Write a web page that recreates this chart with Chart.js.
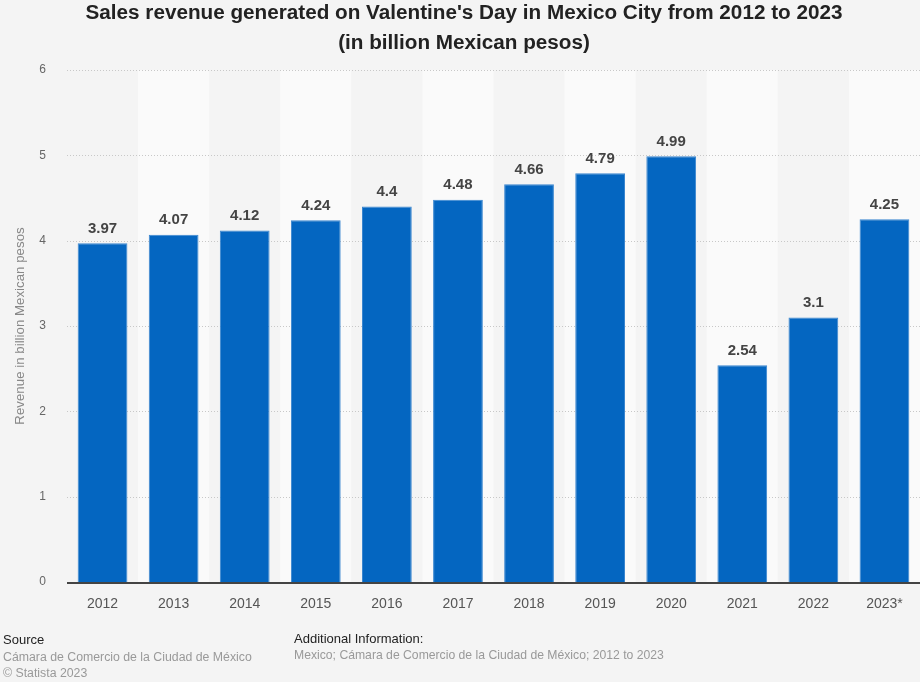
<!DOCTYPE html>
<html>
<head>
<meta charset="utf-8">
<script src="https://cdn.jsdelivr.net/npm/chart.js@4/dist/chart.umd.min.js"></script>
<style>
  html, body { margin:0; padding:0; background:#f4f4f4; }
  #wrap { position:relative; width:920px; height:682px; overflow:hidden; font-family:"Liberation Sans", Arial, sans-serif; }
  #c { position:absolute; left:0; top:0; }
  .title { position:absolute; left:4px; width:920px; text-align:center; font-weight:bold; font-size:20.7px; color:#222; }
  .ft { position:absolute; font-size:12.3px; white-space:nowrap; }
</style>
</head>
<body>
<div id="wrap">
  <canvas id="c" width="920" height="682"></canvas>
  <div class="title" style="top:0px;">Sales revenue generated on Valentine's Day in Mexico City from 2012 to 2023</div>
  <div class="title" style="top:30px;">(in billion Mexican pesos)</div>
  <div class="ft" style="left:3px; top:632px; color:#222; font-size:13px;">Source</div>
  <div class="ft" style="left:3px; top:650px; color:#999;">Cámara de Comercio de la Ciudad de México</div>
  <div class="ft" style="left:3px; top:666px; color:#999;">© Statista 2023</div>
  <div class="ft" style="left:294px; top:631px; color:#222; font-size:13px;">Additional Information:</div>
  <div class="ft" style="left:294px; top:648px; color:#999; font-size:12.2px;">Mexico; Cámara de Comercio de la Ciudad de México; 2012 to 2023</div>
</div>
<script>
const categories = ["2012","2013","2014","2015","2016","2017","2018","2019","2020","2021","2022","2023*"];
const revenue = [3.97, 4.07, 4.12, 4.24, 4.4, 4.48, 4.66, 4.79, 4.99, 2.54, 3.1, 4.25];
const yTicks = [0, 1, 2, 3, 4, 5, 6];

const bandPlugin = {
  id: 'bands',
  beforeDatasetsDraw(chart) {
    const {ctx, chartArea, scales} = chart;
    const x = scales.x;
    ctx.save();
    ctx.fillStyle = '#fafafa';
    for (let i = 1; i < categories.length; i += 2) {
      const c = x.getPixelForValue(i);
      const half = (x.getPixelForValue(1) - x.getPixelForValue(0)) / 2;
      ctx.fillRect(c - half, chartArea.top, half * 2, chartArea.bottom - chartArea.top);
    }
    ctx.strokeStyle = '#c8c8c8';
    ctx.lineWidth = 1;
    ctx.setLineDash([1, 2]);
    const y = scales.y;
    for (const t of yTicks) {
      if (t === 0) continue;
      const py = Math.round(y.getPixelForValue(t)) + 0.5;
      ctx.beginPath();
      ctx.moveTo(chartArea.left, py);
      ctx.lineTo(chartArea.right, py);
      ctx.stroke();
    }
    ctx.restore();
  },
  afterDatasetsDraw(chart) {
    const {ctx, chartArea, scales} = chart;
    ctx.save();
    ctx.strokeStyle = '#444';
    ctx.lineWidth = 2;
    const py = scales.y.getPixelForValue(0) + 1;
    ctx.beginPath();
    ctx.moveTo(chartArea.left, py);
    ctx.lineTo(chartArea.right, py);
    ctx.stroke();
    const meta = chart.getDatasetMeta(0);
    ctx.fillStyle = '#444';
    ctx.font = 'bold 15px "Liberation Sans", Arial, sans-serif';
    ctx.textAlign = 'center';
    ctx.textBaseline = 'bottom';
    meta.data.forEach((bar, i) => {
      ctx.fillText(String(revenue[i]), bar.x, bar.y - 7);
    });
    ctx.restore();
  }
};

new Chart(document.getElementById('c'), {
  type: 'bar',
  data: {
    labels: categories,
    datasets: [{
      data: revenue,
      backgroundColor: '#0466c1',
      borderColor: '#3a86cf',
      borderWidth: {top: 1, left: 1, right: 1, bottom: 0},
      categoryPercentage: 1.0,
      barPercentage: 0.7
    }]
  },
  options: {
    responsive: false,
    animation: false,
    devicePixelRatio: 1,
    layout: { padding: { top: 70, right: 0, bottom: 60, left: 0 } },
    plugins: { legend: { display: false }, tooltip: { enabled: false }, title: { display: false } },
    scales: {
      x: {
        grid: { display: false, drawTicks: false },
        border: { display: false },
        ticks: { color: '#555', font: { size: 14, family: '"Liberation Sans", Arial, sans-serif' }, padding: 14, maxRotation: 0 },
        afterFit(s) { s.height = 40; }
      },
      y: {
        min: 0, max: 6,
        afterBuildTicks(s) { s.ticks = yTicks.map(v => ({value: v})); },
        grid: { display: false, drawTicks: false },
        border: { display: false },
        ticks: { color: '#666', font: { size: 12, family: '"Liberation Sans", Arial, sans-serif' }, padding: 21 },
        title: { display: true, text: 'Revenue in billion Mexican pesos', color: '#888', font: { size: 13.3, family: '"Liberation Sans", Arial, sans-serif' }, padding: { top: 12, bottom: 0 } },
        afterFit(s) { s.width = 67; }
      }
    }
  },
  plugins: [bandPlugin]
});
</script>
</body>
</html>
